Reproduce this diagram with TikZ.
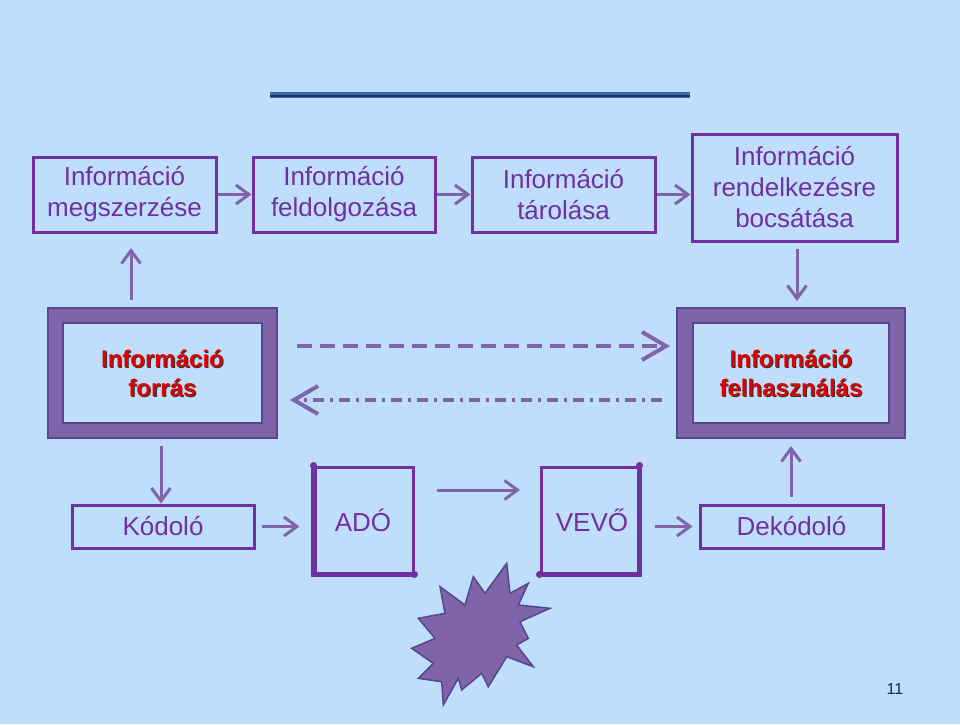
\documentclass[tikz,border=0pt]{standalone}
\usepackage{fontspec}
\setmainfont{Liberation Sans}
\usetikzlibrary{arrows.meta}
\definecolor{bg}{RGB}{190,222,252}
\definecolor{boxc}{RGB}{112,48,160}
\definecolor{arr}{RGB}{128,100,170}
\definecolor{frm}{RGB}{128,100,170}
\definecolor{frmd}{RGB}{88,70,140}
\definecolor{redt}{RGB}{225,0,0}
\definecolor{navy}{RGB}{23,55,100}
\definecolor{midblue}{RGB}{60,105,170}
\tikzset{
  box/.style={draw=boxc, line width=3pt, align=center, text=boxc,
    font=\fontsize{26}{31}\selectfont, inner sep=0pt},
  arrow/.style={draw=arr, line width=3pt, -{Straight Barb[length=13pt,width=19pt]}},
  bigarrow/.style={draw=arr, line width=4pt, -{Straight Barb[length=24pt,width=28pt]}},
  frameout/.style={draw=frmd, line width=1.5pt, fill=frm, inner sep=0pt},
  framein/.style={draw=frmd, line width=2pt, fill=bg, inner sep=0pt},
  redtext/.style={align=center, text=redt, font=\bfseries\fontsize{24}{29}\selectfont},
  shadowtext/.style={align=center, text=black!80, font=\bfseries\fontsize{24}{29}\selectfont},
  dot/.style={circle, fill=boxc, inner sep=0pt, minimum size=7pt}
}
\begin{document}
\begin{tikzpicture}[x=1pt,y=-1pt]
\fill[bg] (0,0) rectangle (960,724);
\useasboundingbox (0,0) rectangle (960,724);

% top blue rule
\draw[midblue, line width=6pt] (270,95) -- (690,95);
\draw[navy, line width=2pt] (270,96) -- (690,96);

% top row
\node[box, minimum width=183pt, minimum height=75pt] (b1) at (124.5,194.5) {Információ\\megszerzése};
\node[box, minimum width=182pt, minimum height=75pt] (b2) at (344,194.5) {Információ\\feldolgozása};
\node[box, minimum width=183pt, minimum height=75pt] (b3) at (563.5,194.5) {Információ\\tárolása};
\node[box, minimum width=205pt, minimum height=107pt] (b4) at (794.5,187.5) {Információ\\rendelkezésre\\bocsátása};

\draw[arrow] (b1.east) -- (b2.west);
\draw[arrow] (b2.east) -- (b3.west);
\draw[arrow] (b3.east) -- (b3.east -| b4.west);

% frames
\node[frameout, minimum width=229pt, minimum height=130pt] (src) at (162.5,373) {};
\node[framein, minimum width=199pt, minimum height=100pt] (srcin) at (162.5,373) {};
\node[shadowtext] (srcsh) at (163.5,374.5) {Információ\\forrás};
\node[redtext] (srct) at (162.5,373) {Információ\\forrás};

\node[frameout, minimum width=228pt, minimum height=130pt] (use) at (791,373) {};
\node[framein, minimum width=196pt, minimum height=100pt] (usein) at (791,373) {};
\node[shadowtext] (usesh) at (792,374.5) {Információ\\felhasználás};
\node[redtext] (uset) at (791,373) {Információ\\felhasználás};

% vertical arrows top
\coordinate (u1s) at (131,300);
\coordinate (u1e) at (131,248);
\draw[arrow] (u1s) -- (u1e);
\coordinate (d4s) at (797,249);
\coordinate (d4e) at (797,301);
\draw[arrow] (d4s) -- (d4e);

% dashed arrows
\coordinate (da) at (297,346);
\coordinate (db) at (670,346);
\draw[bigarrow, dash pattern=on 15pt off 8pt] (da) -- (db);
\coordinate (dc) at (662,400);
\coordinate (dd) at (290,400);
\draw[bigarrow, dash pattern=on 11pt off 6pt on 3pt off 6pt] (dc) -- (dd);

% bottom row
\node[box, minimum width=182pt, minimum height=43pt] (kod) at (163,526.5) {Kódoló};
\node[box, minimum width=98pt, minimum height=106pt] (ado) at (364,520) {};
\node[text=boxc, font=\fontsize{26}{31}\selectfont] (adot) at (363,520) {ADÓ};
\node[box, minimum width=97pt, minimum height=106pt] (vevo) at (589.5,520) {};
\node[text=boxc, font=\fontsize{26}{31}\selectfont] (vevot) at (592,520) {VEVŐ};
\node[box, minimum width=183pt, minimum height=43pt] (dek) at (791.5,526.5) {Dekódoló};

% thicker sides and corner dots
\draw[boxc, line width=5pt] (ado.north west) -- (ado.south west) -- (ado.south east);
\node[dot] (adod1) at (ado.north west) {};
\node[dot] (adod2) at (ado.south east) {};
\draw[boxc, line width=5pt] (vevo.north east) -- (vevo.south east) -- (vevo.south west);
\node[dot] (vevod1) at (vevo.north east) {};
\node[dot] (vevod2) at (vevo.south west) {};

% bottom arrows
\coordinate (k1s) at (161,446);
\draw[arrow] (k1s) -- (k1s |- kod.north);
\draw[arrow] ([xshift=6pt]kod.east) -- ([xshift=-14pt]ado.west |- kod.east);
\coordinate (m1) at (437,490);
\coordinate (m2) at (520,490);
\draw[arrow] (m1) -- (m2);
\draw[arrow] ([xshift=15pt]vevo.east |- dek.west) -- ([xshift=-6pt]dek.west);
\coordinate (k2s) at (791,497);
\coordinate (k2e) at (791,446);
\draw[arrow] (k2s) -- (k2e);

% starburst
\draw[draw=frmd, line width=1.5pt, fill=frm, line join=miter]
 (506.7,563.3) -- (510,593.3) -- (528.3,583.3) -- (518.3,605) -- (550,608.3)
 -- (520,621.7) -- (528.3,638.3) -- (516.7,645) -- (533.3,666.7) -- (506.7,656.7)
 -- (488.3,686.7) -- (481.7,673.3) -- (461.7,690) -- (458.3,678.3) -- (443.3,705)
 -- (441.7,681.7) -- (418.3,678.3) -- (433.3,663.3) -- (411.7,648.3) -- (435,638.3)
 -- (418.3,618.3) -- (445,613.3) -- (440,586.7) -- (465,605) -- (473.3,576.7)
 -- (485,593.3) -- cycle;

% page number
\node[text=navy!80!black, font=\fontsize{16}{18}\selectfont] (pg) at (895,689) {11};
\end{tikzpicture}
\end{document}
